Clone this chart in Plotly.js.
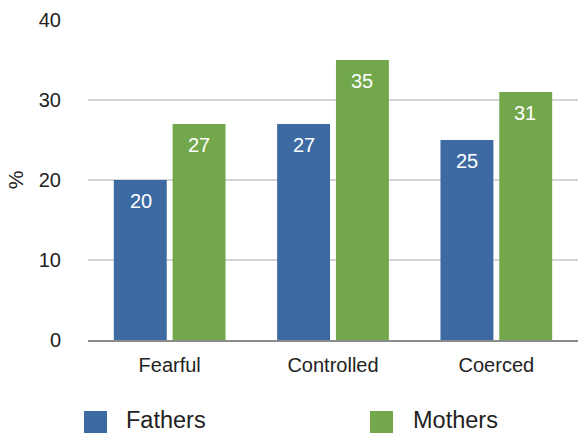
<!DOCTYPE html>
<html><head><meta charset="utf-8">
<script src="https://cdn.plot.ly/plotly-3.0.1.min.js"></script>
<style>html,body{margin:0;padding:0;background:#fff}#c{width:578px;height:433px}</style>
</head><body><div id="c"></div>
<script>
const categories = ["Fearful", "Controlled", "Coerced"];
const fathers = [20, 27, 25];
const mothers = [27, 35, 31];
const seriesNames = ["Fathers", "Mothers"];
const yTicks = [0, 10, 20, 30, 40];

const BLUE = "#3e6aa3", GREEN = "#72a84b";
const FONT = "Liberation Sans, Arial, Helvetica, sans-serif";

const traces = [
  {type: "bar", name: seriesNames[0], x: categories, y: fathers, marker: {color: BLUE}, hoverinfo: "none"},
  {type: "bar", name: seriesNames[1], x: categories, y: mothers, marker: {color: GREEN}, hoverinfo: "none"}
];

const annotations = [];
[fathers, mothers].forEach((vals, si) => {
  vals.forEach((v, i) => {
    annotations.push({x: categories[i], y: v, xref: "x", yref: "y", text: String(v), showarrow: false,
      xshift: si === 0 ? -29 : 29, yshift: -21, font: {family: FONT, size: 20, color: "#ffffff"}});
  });
});
// legend text
const W = 490, H = 320;
const px = v => (v - 88) / W, py = v => (340 - v) / H;
annotations.push({xref: "paper", yref: "paper", x: px(124), y: py(420), xanchor: "left", yanchor: "middle",
  text: seriesNames[0], showarrow: false, font: {family: FONT, size: 23.5, color: "#222"}});
annotations.push({xref: "paper", yref: "paper", x: px(411), y: py(420), xanchor: "left", yanchor: "middle",
  text: seriesNames[1], showarrow: false, font: {family: FONT, size: 23.5, color: "#222"}});

const shapes = [
  {type: "rect", xref: "paper", yref: "paper", x0: px(84), x1: px(107), y0: py(411), y1: py(433), fillcolor: BLUE, line: {width: 0}},
  {type: "rect", xref: "paper", yref: "paper", x0: px(370), x1: px(393), y0: py(411), y1: py(433), fillcolor: GREEN, line: {width: 0}}
];

const layout = {
  width: 578, height: 433,
  margin: {l: 88, r: 0, t: 20, b: 93},
  paper_bgcolor: "#fff", plot_bgcolor: "#fff",
  font: {family: FONT, size: 20, color: "#222"},
  showlegend: false,
  barmode: "group", bargap: 0.28, bargroupgap: 0.1,
  xaxis: {tickfont: {size: 20, color: "#222"}, showgrid: false, ticks: "outside", ticklen: 6, tickcolor: "rgba(0,0,0,0)",
    showline: true, linecolor: "#8a8a8a", linewidth: 2, fixedrange: true},
  yaxis: {range: [0, 40], tickvals: yTicks, tickfont: {size: 20, color: "#222"}, showgrid: true, gridcolor: "#d4d4d4", gridwidth: 2,
    zeroline: false, ticks: "outside", ticklen: 22, tickcolor: "rgba(0,0,0,0)",
    title: {text: "%", font: {size: 21, color: "#222"}, standoff: 9}, fixedrange: true},
  annotations: annotations, shapes: shapes
};
Plotly.newPlot("c", traces, layout, {staticPlot: true});
</script></body></html>
